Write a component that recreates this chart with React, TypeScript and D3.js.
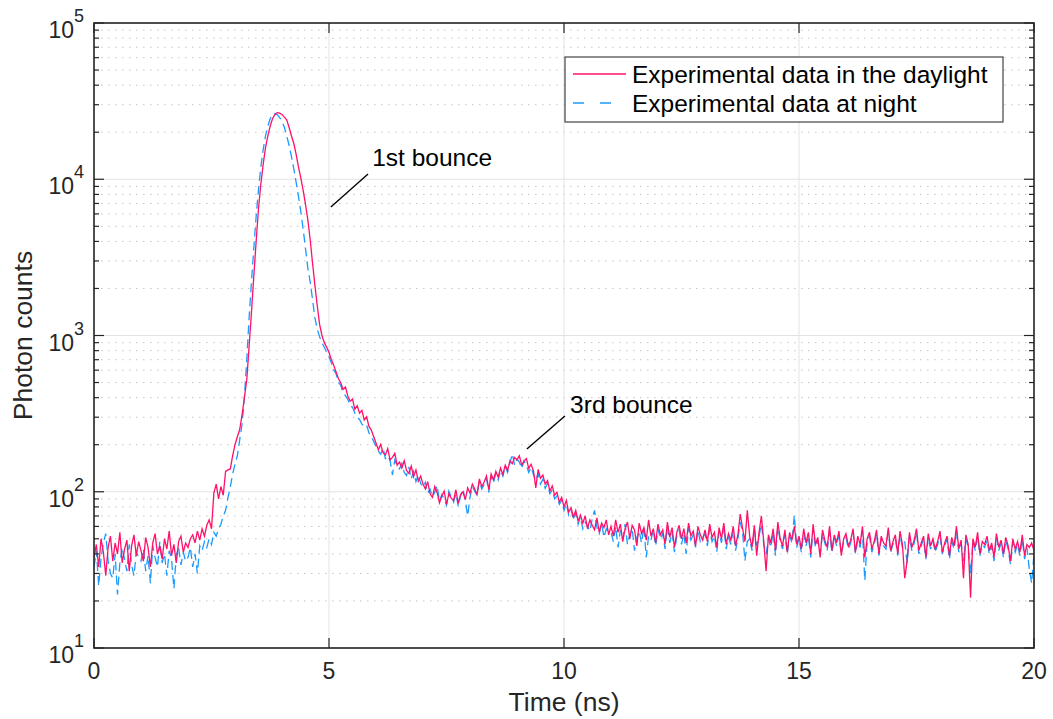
import React from 'react';
import * as d3 from 'd3';

// ---------- DATA ----------
const SAMPLE_STEP_NS = 0.05; // time between samples
const X_TICKS = [0, 5, 10, 15, 20];
const Y_DECADE_EXPONENTS = [1, 2, 3, 4, 5];
const SERIES_NAMES = ['Experimental data in the daylight', 'Experimental data at night'];

// Photon counts, daylight (t = 0 .. 20 ns, step 0.05 ns)
const daylightCounts = [
  38, 46, 33, 50, 41, 29, 44, 52, 36, 47, 40, 55, 35, 43, 49, 31, 45, 53, 39, 48,
  42, 36, 51, 44, 33, 47, 54, 40, 45, 37, 50, 43, 56, 39, 46, 35, 48, 52, 41, 47,
  44, 50, 53, 47, 56, 49, 58, 52, 61, 66, 58, 98, 112, 90, 108, 95, 135, 138, 140, 170,
  200, 225, 250, 310, 400, 519, 850, 1400, 2400, 4000, 6500, 9300, 12500, 16000, 19000, 22000, 24500, 26000, 26700, 26500,
  26000, 25000, 24000, 21500, 19000, 17000, 14500, 12000, 10200, 8500, 6900, 5500, 4100, 2900, 2100, 1550, 1180, 1000, 900, 840,
  780, 700, 645, 585, 530, 498, 452, 468, 410, 380, 392, 338, 355, 318, 332, 288, 302, 262, 248, 226,
  205, 186, 201, 178, 172, 189, 160, 166, 176, 148, 155, 142, 158, 137, 131, 146, 125, 138, 117, 126,
  112, 104, 116, 97, 92, 108, 99, 85, 94, 101, 83, 97, 91, 88, 103, 84, 96, 100, 89, 106,
  98, 112, 104, 96, 121, 108, 115, 126, 103, 130, 119, 135, 124, 142, 129, 148, 137, 158, 151, 166,
  160, 170, 148, 157, 163, 141, 150, 136, 106, 139, 122, 128, 112, 118, 101, 109, 95, 99, 86, 92,
  80, 88, 74, 79, 69, 76, 65, 71, 63, 70, 58, 66, 61, 57, 68, 55, 63, 59, 66, 53,
  60, 52, 66, 55, 62, 48, 58, 64, 50, 61, 57, 45, 63, 54, 59, 49, 66, 52, 58, 47,
  62, 53, 57, 46, 64, 51, 59, 44, 55, 61, 50, 58, 47, 63, 52, 56, 45, 60, 53, 49,
  57, 48, 62, 51, 55, 44, 59, 50, 63, 46, 54, 49, 60, 45, 53, 72, 58, 48, 76, 52,
  44, 61, 39, 55, 70, 48, 31, 53, 47, 58, 42, 64, 50, 45, 57, 41, 55, 49, 60, 46,
  52, 43, 58, 47, 55, 40, 62, 46, 51, 38, 57, 49, 44, 60, 42, 53, 47, 56, 39, 50,
  54, 45, 49, 58, 41, 52, 46, 60, 38, 50, 55, 43, 48, 57, 40, 52, 47, 45, 59, 42,
  48, 53, 40, 56, 46, 28, 36, 55, 44, 49, 58, 42, 47, 52, 38, 54, 45, 50, 43, 48,
  56, 41, 47, 52, 39, 51, 45, 60, 43, 49, 28, 53, 46, 21, 50, 44, 55, 40, 48, 46,
  52, 42, 47, 38, 54, 44, 49, 40, 51, 45, 36, 50, 43, 48, 41, 53, 39, 46, 44, 47,
  42,
];

// Photon counts, night (t = 0 .. 20 ns, step 0.05 ns)
const nightCounts = [
  33, 42, 25, 38, 47, 54, 36, 30, 28, 40, 22, 35, 44, 37, 31, 46, 34, 29, 41, 38,
  36, 43, 31, 39, 26, 45, 38, 33, 48, 35, 40, 29, 42, 37, 24, 39, 44, 34, 41, 36,
  38, 44, 33, 40, 30, 45, 42, 48, 44, 50, 46, 55, 52, 58, 62, 70, 76, 92, 107, 130,
  150, 170, 215, 270, 400, 700, 1300, 2200, 3600, 5800, 8600, 12000, 15500, 19000, 22000, 24500, 26000, 26400, 25900, 24800,
  23500, 21500, 19000, 16500, 14000, 11700, 9600, 7800, 6200, 4800, 3600, 2700, 2200, 1700, 1300, 1100, 980, 900, 840, 780,
  730, 668, 602, 571, 502, 480, 428, 412, 390, 352, 348, 318, 300, 290, 271, 262, 268, 238, 226, 210,
  196, 182, 174, 191, 163, 170, 158, 128, 160, 147, 140, 152, 133, 127, 144, 121, 135, 116, 129, 113,
  107, 115, 98, 104, 93, 99, 110, 87, 96, 90, 82, 101, 93, 86, 97, 81, 94, 104, 88, 70,
  92, 108, 101, 95, 117, 104, 111, 122, 99, 127, 114, 131, 119, 137, 126, 146, 133, 152, 175, 148,
  162, 155, 141, 158, 147, 133, 144, 129, 118, 131, 112, 120, 105, 113, 97, 103, 90, 94, 83, 88,
  76, 84, 71, 77, 66, 73, 62, 69, 58, 64, 60, 56, 67, 76, 59, 54, 63, 51, 58, 55,
  55, 48, 60, 44, 57, 50, 62, 46, 53, 58, 42, 51, 56, 47, 60, 38, 52, 49, 57, 45,
  58, 50, 54, 43, 60, 47, 55, 41, 52, 57, 46, 54, 40, 59, 49, 53, 44, 57, 48, 51,
  54, 45, 58, 48, 52, 41, 56, 47, 60, 43, 51, 46, 57, 42, 50, 64, 55, 36, 48, 50,
  42, 58, 45, 52, 62, 46, 40, 50, 44, 55, 39, 60, 48, 43, 54, 40, 52, 47, 71, 44,
  50, 41, 55, 45, 52, 38, 58, 44, 49, 40, 54, 47, 42, 56, 41, 51, 45, 53, 40, 48,
  51, 43, 47, 55, 40, 49, 44, 56, 27, 48, 52, 41, 46, 54, 39, 50, 45, 43, 55, 41,
  46, 50, 39, 53, 44, 48, 35, 52, 42, 47, 55, 40, 45, 50, 37, 51, 43, 48, 41, 46,
  52, 40, 45, 50, 37, 48, 43, 56, 41, 47, 36, 50, 44, 30, 48, 42, 52, 39, 46, 44,
  49, 40, 45, 36, 51, 42, 47, 38, 49, 43, 34, 48, 41, 46, 39, 50, 37, 44, 32, 26,
  40,
];

// Annotations: label, arrow tip (t, counts), arrow tail (t, counts), text anchor (t, counts)
const annotationLabels = ['1st bounce', '3rd bounce'];
const annotationTips = [[5.04, 6640], [9.21, 188]];
const annotationTails = [[5.83, 10800], [10.02, 305]];
const annotationTextPos = [[5.92, 12200], [10.13, 318]];

// ---------- STYLE ----------
const W = 1053;
const H = 719;
const PLOT = { left: 94, right: 1034, top: 23, bottom: 648 };
const FONT = '"Liberation Sans", Arial, Helvetica, sans-serif';
const RED = '#ff1169';
const BLUE = '#1b9bff';
const AXIS = '#262626';

export default function App() {
  const x = d3.scaleLinear().domain([0, 20]).range([PLOT.left, PLOT.right]);
  const y = d3.scaleLog().domain([10, 1e5]).range([PLOT.bottom, PLOT.top]);

  const line = d3
    .line<number>()
    .x((_, i) => x(i * SAMPLE_STEP_NS))
    .y((d) => y(d));

  const minorVals: number[] = [];
  Y_DECADE_EXPONENTS.slice(0, -1).forEach((e) => {
    for (let m = 2; m <= 9; m++) minorVals.push(m * Math.pow(10, e));
  });
  const majorVals = Y_DECADE_EXPONENTS.map((e) => Math.pow(10, e));

  return (
    <svg
      width={W}
      height={H}
      style={{ position: 'absolute', left: 0, top: 0, background: '#fff' }}
      fontFamily={FONT}
    >
      <defs>
        <clipPath id="plotClip">
          <rect x={PLOT.left} y={PLOT.top} width={PLOT.right - PLOT.left} height={PLOT.bottom - PLOT.top} />
        </clipPath>
      </defs>
      <rect x={0} y={0} width={W} height={H} fill="#fff" />

      {/* minor grid */}
      {minorVals.map((v) => (
        <line
          key={'mg' + v}
          x1={PLOT.left}
          x2={PLOT.right}
          y1={y(v)}
          y2={y(v)}
          stroke="#c4c4c4"
          strokeWidth={1}
          strokeDasharray="1.5,5.5"
        />
      ))}
      {/* major grid */}
      {majorVals.map((v) => (
        <line key={'Mg' + v} x1={PLOT.left} x2={PLOT.right} y1={y(v)} y2={y(v)} stroke="#e3e3e3" strokeWidth={1} />
      ))}
      {X_TICKS.map((t) => (
        <line key={'xg' + t} x1={x(t)} x2={x(t)} y1={PLOT.top} y2={PLOT.bottom} stroke="#e3e3e3" strokeWidth={1} />
      ))}

      {/* data */}
      <g clipPath="url(#plotClip)" fill="none">
        <path d={line(nightCounts) || ''} stroke={BLUE} strokeWidth={1.3} strokeDasharray="9,5" />
        <path d={line(daylightCounts) || ''} stroke={RED} strokeWidth={1.3} />
      </g>

      {/* axes box */}
      <rect
        x={PLOT.left}
        y={PLOT.top}
        width={PLOT.right - PLOT.left}
        height={PLOT.bottom - PLOT.top}
        fill="none"
        stroke={AXIS}
        strokeWidth={1.6}
      />
      {/* y ticks (inward, both sides) */}
      {minorVals.map((v) => (
        <g key={'yt' + v} stroke={AXIS} strokeWidth={1.2}>
          <line x1={PLOT.left} x2={PLOT.left + 5} y1={y(v)} y2={y(v)} />
          <line x1={PLOT.right} x2={PLOT.right - 5} y1={y(v)} y2={y(v)} />
        </g>
      ))}
      {majorVals.map((v) => (
        <g key={'yT' + v} stroke={AXIS} strokeWidth={1.2}>
          <line x1={PLOT.left} x2={PLOT.left + 10} y1={y(v)} y2={y(v)} />
          <line x1={PLOT.right} x2={PLOT.right - 10} y1={y(v)} y2={y(v)} />
        </g>
      ))}
      {X_TICKS.map((t) => (
        <g key={'xt' + t} stroke={AXIS} strokeWidth={1.2}>
          <line x1={x(t)} x2={x(t)} y1={PLOT.bottom} y2={PLOT.bottom - 10} />
          <line x1={x(t)} x2={x(t)} y1={PLOT.top} y2={PLOT.top + 10} />
        </g>
      ))}

      {/* tick labels */}
      {X_TICKS.map((t) => (
        <text key={'xl' + t} x={x(t)} y={PLOT.bottom + 31} textAnchor="middle" fontSize={23} fill={AXIS}>
          {t}
        </text>
      ))}
      {Y_DECADE_EXPONENTS.map((e) => (
        <text key={'yl' + e} x={84} y={y(Math.pow(10, e)) + 15} textAnchor="end" fontSize={23} fill={AXIS}>
          10
          <tspan dy={-16} fontSize={18}>
            {e}
          </tspan>
        </text>
      ))}

      {/* axis labels */}
      <text x={(PLOT.left + PLOT.right) / 2} y={711} textAnchor="middle" fontSize={26.5} fill={AXIS}>
        Time (ns)
      </text>
      <text
        transform={`translate(32, ${(PLOT.top + PLOT.bottom) / 2}) rotate(-90)`}
        textAnchor="middle"
        fontSize={26.5}
        fill={AXIS}
      >
        Photon counts
      </text>

      {/* annotations */}
      {annotationLabels.map((lab, i) => (
        <g key={'an' + i}>
          <line
            x1={x(annotationTips[i][0])}
            y1={y(annotationTips[i][1])}
            x2={x(annotationTails[i][0])}
            y2={y(annotationTails[i][1])}
            stroke="#000"
            strokeWidth={1.4}
          />
          <text x={x(annotationTextPos[i][0])} y={y(annotationTextPos[i][1])} fontSize={24.5} fill="#000">
            {lab}
          </text>
        </g>
      ))}

      {/* legend */}
      <g>
        <rect x={565} y={57} width={438} height={65} fill="#fff" stroke="#444" strokeWidth={1.2} />
        <line x1={573} x2={626} y1={74} y2={74} stroke={RED} strokeWidth={1.3} />
        <text x={632} y={83} fontSize={24.5} fill="#000">
          {SERIES_NAMES[0]}
        </text>
        <line x1={573} x2={626} y1={103} y2={103} stroke={BLUE} strokeWidth={1.3} strokeDasharray="11,16" />
        <text x={632} y={112} fontSize={24.5} fill="#000">
          {SERIES_NAMES[1]}
        </text>
      </g>
    </svg>
  );
}
